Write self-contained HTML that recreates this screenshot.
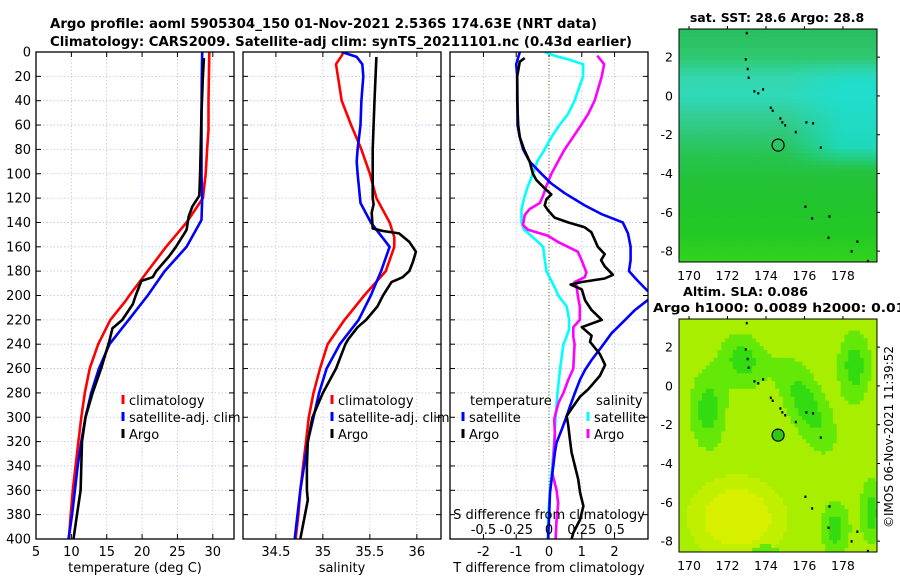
<!DOCTYPE html>
<html><head><meta charset="utf-8"><style>
html,body{margin:0;padding:0;background:#fff;}
svg{display:block;font-family:"DejaVu Sans","Liberation Sans",sans-serif;}
</style></head><body>
<svg id="chart" width="900" height="580" viewBox="0 0 900 580" xmlns="http://www.w3.org/2000/svg">
<defs>
<clipPath id="mapclip0"><rect x="679" y="29" width="198" height="233"/></clipPath>
<clipPath id="mapclip1"><rect x="679" y="319" width="198" height="233"/></clipPath>
</defs>
<text x="50" y="28" font-size="13" font-weight="bold" textLength="547" lengthAdjust="spacingAndGlyphs">Argo profile: aoml 5905304_150 01-Nov-2021 2.536S 174.63E (NRT data)</text>
<text x="50" y="46" font-size="13" font-weight="bold" textLength="582" lengthAdjust="spacingAndGlyphs">Climatology: CARS2009. Satellite-adj clim: synTS_20211101.nc (0.43d earlier)</text>
<g id="panels"></g>
<g id="maps"></g>
<text x="777" y="22" font-size="12.5" font-weight="bold" text-anchor="middle">sat. SST: 28.6 Argo: 28.8</text>
<text x="683" y="296" font-size="12.5" font-weight="bold" textLength="125" lengthAdjust="spacingAndGlyphs">Altim. SLA: 0.086</text>
<text x="653" y="312" font-size="12.5" font-weight="bold" textLength="262" lengthAdjust="spacingAndGlyphs">Argo h1000: 0.0089 h2000: 0.018</text>
<text transform="translate(893,437) rotate(-90)" font-size="12" text-anchor="middle">©IMOS 06-Nov-2021 11:39:52</text>
</svg>
<script>
// ---- data ----
const depthTicks = [0,20,40,60,80,100,120,140,160,180,200,220,240,260,280,300,320,340,360,380,400];
const tempTicks = [5,10,15,20,25,30];
const salTicks = [34.5,35,35.5,36];
const dTTicks = [-2,-1,0,1,2];
const dSTicks = [-0.5,-0.25,0,0.25,0.5];
const dSTickLabels = ["-0.5","-0.25","0","0.25","0.5"];

const climTDepth = [0,20,40,64,80,100,120,140,160,180,200,205,220,240,260,280,300,320,340,360,380,400];
const climT = [29.5,29.45,29.4,29.4,29.2,29.0,28.6,26.3,23.4,20.8,18.2,17.6,15.5,13.8,12.6,11.9,11.4,11.0,10.6,10.2,9.9,9.65];
const satTDepth = [0,20,50,100,120,138,160,180,200,220,240,260,280,300,320,340,360,380,400];
const satT = [28.5,28.45,28.4,28.4,28.5,28.4,26.3,23.2,20.8,18.1,15.4,13.9,12.8,12.0,11.4,10.9,10.5,10.1,9.6];
const argoTDepth = [5,20,50,100,118,127,135,146,160,168,180,185,188,200,207,220,227,237,260,280,300,320,340,360,380,400];
const argoT = [28.75,28.6,28.4,28.2,28.1,27.1,26.6,26.3,24.8,23.8,22.0,21.5,19.9,19.1,18.7,17.2,15.8,15.4,14.2,13.0,12.0,11.5,11.4,11.3,10.8,10.3];

const climSDepth = [0,3,10,20,40,60,80,100,120,140,152,160,180,200,220,240,260,280,300,320,340,360,380,400];
const climS = [35.22,35.20,35.14,35.16,35.20,35.30,35.41,35.50,35.57,35.71,35.76,35.76,35.67,35.44,35.23,35.05,34.97,34.90,34.85,34.82,34.79,34.76,34.74,34.71];
const satSDepth = [0,4,10,20,40,60,80,90,100,124,140,160,180,200,220,240,260,280,300,320,340,360,380,400];
const satS = [35.20,35.36,35.42,35.43,35.41,35.40,35.37,35.36,35.37,35.40,35.51,35.71,35.62,35.51,35.38,35.18,35.04,34.96,34.90,34.84,34.80,34.76,34.73,34.70];
const argoSDepth = [4,40,80,120,125,132,145,147,149,156,164,172,180,185,189,200,209,220,226,236,240,260,280,300,320,340,360,368,380,400];
const argoS = [35.57,35.55,35.53,35.53,35.54,35.52,35.53,35.64,35.81,35.92,35.99,35.96,35.92,35.85,35.73,35.64,35.58,35.46,35.37,35.27,35.24,35.14,35.00,34.89,34.84,34.83,34.83,34.84,34.81,34.76];

const satDTDepth = [0,10,20,40,60,70,80,90,100,108,116,126,133,140,149,160,171,180,188,196,199,204,212,220,231,242,253,261,269,280,291,299,310,321,329,340,351,362,378,397,400];
const satDT = [-0.89,-1.0,-0.97,-0.96,-0.96,-0.89,-0.79,-0.59,-0.23,0.07,0.48,1.09,1.59,2.25,2.41,2.49,2.49,2.44,2.71,3.0,3.2,3.0,2.62,2.32,1.91,1.61,1.30,1.10,0.95,0.79,0.64,0.54,0.39,0.23,0.18,0.13,0.08,0.03,0.01,-0.02,-0.02];
const argoDTDepth = [5,8,20,40,60,70,80,90,100,105,112,117,121,126,130,136,140,144,148,154,160,166,171,176,183,186,189,191,195,204,212,220,226,233,238,248,257,266,277,283,291,299,307,319,329,340,351,362,373,384,395,400];
const argoDT = [-0.74,-0.89,-0.97,-0.97,-0.94,-0.89,-0.76,-0.59,-0.49,-0.39,-0.13,0.07,-0.08,-0.13,-0.03,0.17,0.58,1.09,1.29,1.39,1.49,1.70,1.59,1.70,1.95,1.70,0.98,0.66,1.0,1.10,1.30,1.61,1.0,1.30,1.25,1.55,1.71,1.55,1.20,0.95,0.74,0.54,0.59,0.64,0.69,0.79,0.89,0.95,1.05,0.95,0.74,0.69];
const satDSDepth = [0,3,6,10,20,28,40,51,60,70,80,90,100,110,120,129,140,146,151,160,170,180,188,196,200,209,220,228,237,240,260,280,300,320,340,360,380,400];
const satDS = [-0.033,0.043,0.145,0.26,0.26,0.233,0.195,0.145,0.08,0.018,-0.033,-0.09,-0.123,-0.16,-0.19,-0.21,-0.21,-0.19,-0.135,-0.045,-0.033,-0.02,0.018,0.055,0.07,0.135,0.153,0.153,0.123,0.11,0.085,0.065,0.05,0.04,0.025,0.008,-0.005,-0.01];
const argoDSDepth = [3,10,20,40,51,60,70,80,90,100,110,118,124,129,134,142,146,151,156,164,170,181,185,189,191,200,209,220,226,234,240,250,260,269,280,288,297,302,313,324,335,346,360,371,384,400];
const argoDS = [0.368,0.42,0.403,0.348,0.298,0.245,0.183,0.12,0.068,0.018,-0.02,-0.045,-0.07,-0.148,-0.185,-0.198,-0.16,-0.008,0.068,0.22,0.245,0.285,0.273,0.195,0.208,0.22,0.235,0.235,0.185,0.185,0.195,0.19,0.185,0.148,0.11,0.073,0.05,0.04,0.045,0.04,0.033,0.025,0.058,0.07,0.058,0.05];

const lonTicks = [170,172,174,176,178];
const latTicks = [2,0,-2,-4,-6,-8];
const argoLon = [174.63];
const argoLat = [-2.536];
const coastLon = [173.0,172.95,173.05,173.1,173.4,173.6,173.85,174.25,174.35,174.75,174.85,175.0,175.55,176.1,176.45,176.85,176.05,176.4,177.3,177.25,178.45,178.75,179.3];
const coastLat = [3.25,1.9,1.4,0.95,0.25,0.15,0.35,-0.6,-0.75,-1.15,-1.35,-1.5,-1.85,-1.35,-1.4,-2.65,-5.7,-6.3,-6.2,-7.3,-8.0,-7.5,-8.5];

// ---- helpers ----
const NS = "http://www.w3.org/2000/svg";
function mk(tag, attrs, parent){ const e=document.createElementNS(NS,tag); for(const k in attrs) e.setAttribute(k,attrs[k]); parent.appendChild(e); return e; }
const Y0 = 52, Y1 = 539;
function yD(d){ return Y0 + d*(Y1-Y0)/400; }
const panelsG = document.getElementById('panels');
const defs = document.querySelector('defs');

const panels = [
  {x0:36, x1:234, v0:5, v1:33, ticks:tempTicks, labels:tempTicks.map(String), title:"temperature (deg C)", name:"temperature-panel"},
  {x0:243, x1:441, v0:34.5-(276-243)/94.3, v1:34.5+(441.7-276)/94.3, ticks:salTicks, labels:["34.5","35","35.5","36"], title:"salinity", name:"salinity-panel"},
  {x0:450, x1:648, v0:-3.02, v1:3.02, ticks:dTTicks, labels:dTTicks.map(String), title:"T difference from climatology", name:"difference-panel"}
];
function xf(p){ return v => p.x0 + (v-p.v0)*(p.x1-p.x0)/(p.v1-p.v0); }

panels.forEach((p,pi)=>{
  const g = mk('g',{},panelsG);
  
  
  const X = xf(p);
  mk('rect',{x:p.x0,y:Y0,width:p.x1-p.x0,height:Y1-Y0,fill:'#fff'},g);
  const cp = mk('clipPath',{id:'clip'+pi},defs);
  mk('rect',{x:p.x0,y:Y0,width:p.x1-p.x0,height:Y1-Y0},cp);
  depthTicks.forEach(d=>{
    const l = mk('line',{x1:p.x0,x2:p.x1,y1:yD(d),y2:yD(d),stroke:'#b8c0e8','stroke-width':0.8,'stroke-dasharray':'1.5,2'},g);
    
    
  });
  p.ticks.forEach(v=>{
    if(pi===2 && v===0) return;
    const l = mk('line',{x1:X(v),x2:X(v),y1:Y0,y2:Y1,stroke:'#c8c0e0','stroke-width':0.8,'stroke-dasharray':'1.5,2'},g);
    
    
  });
  if(pi===2){
    const z = mk('line',{x1:X(0),x2:X(0),y1:Y0,y2:Y1,stroke:'#4a6a30','stroke-width':1,'stroke-dasharray':'1.2,2'},g);
    
    
  }
  depthTicks.forEach(d=>{
    mk('line',{x1:p.x0,x2:p.x0+5,y1:yD(d),y2:yD(d),stroke:'#000','stroke-width':1},g);
    mk('line',{x1:p.x1-5,x2:p.x1,y1:yD(d),y2:yD(d),stroke:'#000','stroke-width':1},g);
  });
  p.ticks.forEach((v,i)=>{
    mk('line',{x1:X(v),x2:X(v),y1:Y0,y2:Y0+5,stroke:'#000','stroke-width':1},g);
    mk('line',{x1:X(v),x2:X(v),y1:Y1-5,y2:Y1,stroke:'#000','stroke-width':1},g);
    const t = mk('text',{x:X(v),y:556,'font-size':13,'text-anchor':'middle'},g);
    t.textContent = p.labels[i];
    
    
  });
  const at = mk('text',{x:(p.x0+p.x1)/2,y:572,'font-size':13,'text-anchor':'middle'},g);
  at.textContent = p.title;
  
  
  if(pi===0){
    depthTicks.forEach(d=>{
      const t = mk('text',{x:31,y:yD(d)+4.5,'font-size':13,'text-anchor':'end'},g);
      t.textContent = String(d);
      
      
    });
  }
  p.g = g; p.X = X; p.clip = 'url(#clip'+pi+')';
});

function series(p, depths, vals, color, name, scale){
  const X = p.X;
  const pts = depths.map((d,i)=> X(vals[i]*(scale||1)).toFixed(1)+','+yD(d).toFixed(1)).join(' ');
  const pl = mk('polyline',{points:pts,fill:'none',stroke:color,'stroke-width':2.6,'stroke-linejoin':'round','clip-path':p.clip},p.g);
  
  
}
series(panels[0], climTDepth, climT, '#ff0000', 'climatology-temperature-line');
series(panels[0], satTDepth, satT, '#0000ff', 'satellite-temperature-line');
series(panels[0], argoTDepth, argoT, '#000000', 'argo-temperature-line');
series(panels[1], climSDepth, climS, '#ff0000', 'climatology-salinity-line');
series(panels[1], satSDepth, satS, '#0000ff', 'satellite-salinity-line');
series(panels[1], argoSDepth, argoS, '#000000', 'argo-salinity-line');
series(panels[2], satDSDepth, satDS, '#00ffff', 'satellite-salinity-diff-line', 4);
series(panels[2], argoDSDepth, argoDS, '#ff00ff', 'argo-salinity-diff-line', 4);
series(panels[2], satDTDepth, satDT, '#0000ff', 'satellite-temperature-diff-line');
series(panels[2], argoDTDepth, argoDT, '#000000', 'argo-temperature-diff-line');

function legend(p, x, y, color, label, name){
  mk('line',{x1:x,x2:x,y1:y-10,y2:y-1,stroke:color,'stroke-width':3},p.g);
  const t = mk('text',{x:x+6,y:y,'font-size':13},p.g);
  t.textContent = label;
  
  
}
legend(panels[0],123,405,'#ff0000','climatology','legend-climatology');
legend(panels[0],123,422,'#0000ff','satellite-adj. clim','legend-satellite-adj');
legend(panels[0],123,439,'#000000','Argo','legend-argo');
legend(panels[1],332,405,'#ff0000','climatology','legend-climatology');
legend(panels[1],332,422,'#0000ff','satellite-adj. clim','legend-satellite-adj');
legend(panels[1],332,439,'#000000','Argo','legend-argo');
{
  const p = panels[2];
  const t1 = mk('text',{x:470,y:405,'font-size':13},p.g); t1.textContent='temperature';
  
  
  const t2 = mk('text',{x:596,y:405,'font-size':13},p.g); t2.textContent='salinity';
  
  
  legend(p,463,422,'#0000ff','satellite','legend-temperature-satellite');
  legend(p,463,439,'#000000','Argo','legend-temperature-argo');
  legend(p,588,422,'#00ffff','satellite','legend-salinity-satellite');
  legend(p,588,439,'#ff00ff','Argo','legend-salinity-argo');
  const st = mk('text',{x:549,y:519,'font-size':13,'text-anchor':'middle'},p.g);
  st.textContent = 'S difference from climatology';
  
  
  dSTicks.forEach((v,i)=>{
    const t = mk('text',{x:p.X(v*4),y:534,'font-size':13,'text-anchor':'middle'},p.g);
    t.textContent = dSTickLabels[i];
    
    
  });
}
panels.forEach(p=>{
  const f = mk('rect',{x:p.x0,y:Y0,width:p.x1-p.x0,height:Y1-Y0,fill:'none',stroke:'#000','stroke-width':1.3},p.g);
  
  
});

// ---- maps ----
const mapsG = document.getElementById('maps');
const MX0=679, MX1=877, LON0=169.48, LON1=179.77;
function mX(lon){ return MX0 + (lon-LON0)*(MX1-MX0)/(LON1-LON0); }
function mY(top, lat){ return top + (3.45-lat)*19.4; }
const sstLats = [3.5,2,1,0,-1,-2,-3,-4.5,-7,-8.6];
const sstCols = [[42,190,92],[46,200,112],[52,214,172],[48,218,186],[52,206,150],[46,200,118],[40,196,82],[34,194,52],[34,200,36],[50,212,30]];
function sstColor(lon, lat){
  let i=0; while(i<sstLats.length-2 && lat<sstLats[i+1]) i++;
  const t=Math.min(1,Math.max(0,(sstLats[i]-lat)/(sstLats[i]-sstLats[i+1])));
  let c=sstCols[i].map((v,k)=>v+(sstCols[i+1][k]-v)*t);
  let w = Math.max(0,Math.min(1,(lon-175)/3)) * Math.max(0,Math.min(1,(lat+3.8)/1.2)) * Math.max(0,Math.min(1,(1.8-lat)/1.2));
  c = c.map((v,k)=>v+([28,222,210][k]-v)*w*0.8);
  return 'rgb('+c.map(v=>Math.round(v)).join(',')+')';
}
function g2(lon,lat,cx,cy,sx,sy,rot){
  const dx=lon-cx, dy=lat-cy; const c=Math.cos(rot), s=Math.sin(rot);
  const u=(dx*c+dy*s)/sx, v=(-dx*s+dy*c)/sy; return Math.exp(-(u*u+v*v));
}
function slaColor(lon, lat){
  let f = g2(lon,lat,171.0,-1.2,1.0,2.2,0)+g2(lon,lat,172.8,1.3,1.1,1.5,0.3)+g2(lon,lat,176.1,-1.0,1.1,2.8,0.45)
        +g2(lon,lat,178.6,1.0,0.9,2.0,0)+g2(lon,lat,177.6,-7.4,0.8,1.5,0)+g2(lon,lat,179.5,-6.5,0.6,1.8,0)+g2(lon,lat,174,-8.6,1.0,0.5,0)*0.7;
  let y = g2(lon,lat,172.5,-6.8,2.4,2.0,0);
  if(f>0.8) return 'rgb(50,220,16)';
  if(f>0.4) return 'rgb(100,232,8)';
  if(y>0.6) return 'rgb(214,240,0)';
  if(y>0.3) return 'rgb(192,240,0)';
  return 'rgb(168,238,0)';
}
function drawMap(idx, top, colorFn, name, filledCircle){
  const g = mk('g',{},mapsG);
  
  
  const cells = mk('g',{'clip-path':'url(#mapclip'+idx+')'},g);
  const step=0.2;
  for(let lat=3.45; lat>-8.6; lat-=step){
    for(let lon=LON0; lon<LON1; lon+=step){
      mk('rect',{x:mX(lon).toFixed(1),y:mY(top,lat).toFixed(1),width:(step*19.25+0.5).toFixed(1),height:(step*19.4+0.5).toFixed(1),fill:colorFn(lon+step/2,lat-step/2)},cells);
    }
  }
  coastLon.forEach((lon,i)=>{
    const d = mk('rect',{x:mX(lon)-1,y:mY(top,coastLat[i])-1,width:2,height:2.5,fill:'#000'},cells);
    
    
  });
  argoLon.forEach((lon,i)=>{
    const c = mk('circle',{cx:mX(lon),cy:mY(top,argoLat[i]),r:6,fill:filledCircle?'#30c818':'none',stroke:'#000','stroke-width':1.2},cells);
    
    
  });
  const fr = mk('rect',{x:MX0,y:top,width:MX1-MX0,height:233,fill:'none',stroke:'#000','stroke-width':1},g);
  
  
  latTicks.forEach(l=>{
    const t = mk('text',{x:673,y:mY(top,l)+4.5,'font-size':12.5,'text-anchor':'end'},g);
    t.textContent = String(l);
    
    
    mk('line',{x1:MX1,x2:MX1+3,y1:mY(top,l),y2:mY(top,l),stroke:'#000'},g);
  });
  lonTicks.forEach(l=>{
    const t = mk('text',{x:mX(l),y:top+233+18,'font-size':12.5,'text-anchor':'middle'},g);
    t.textContent = String(l);
    
    
    mk('line',{x1:mX(l),x2:mX(l),y1:top,y2:top-3,stroke:'#000'},g);
  });
}
drawMap(0, 29, sstColor, 'sst-map', false);
drawMap(1, 319, slaColor, 'sla-map', true);
</script>
</body></html>
